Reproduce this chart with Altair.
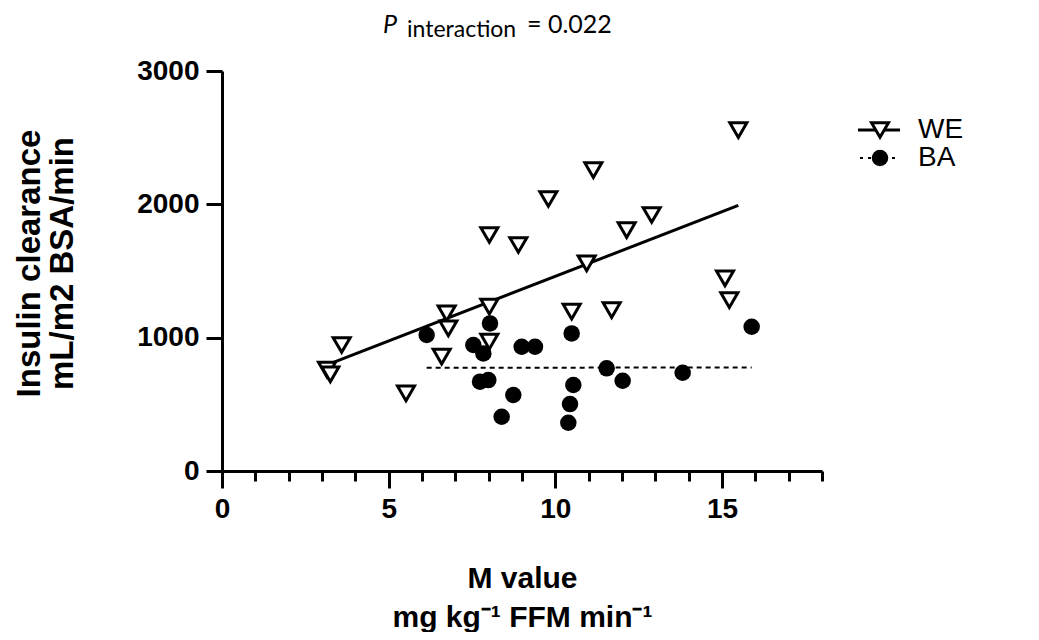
import altair as alt
import pandas as pd

# WE group (open inverted triangles)
we_x = [3.15, 3.25, 3.59, 5.52, 6.59, 6.74, 6.79, 8.02, 8.02, 8.02, 8.89,
        9.79, 10.49, 10.94, 11.14, 11.69, 12.14, 12.89, 15.09, 15.22, 15.49]
we_y = [760, 725, 945, 582, 857, 1182, 1070, 1232, 970, 1770, 1695,
        2040, 1195, 1557, 2257, 1207, 1807, 1920, 1445, 1282, 2557]
# BA group (filled circles)
ba_x = [6.14, 7.54, 7.74, 7.84, 7.99, 8.04, 8.39, 8.74, 8.99, 9.39,
        10.39, 10.44, 10.49, 10.54, 11.54, 12.02, 13.82, 15.89]
ba_y = [1020, 945, 670, 882, 682, 1107, 407, 570, 932, 932,
        362, 502, 1032, 645, 770, 677, 737, 1082]

x_ticks = list(range(0, 19))
y_ticks = [0, 1000, 2000, 3000]
x_title = ["M value", "mg kg\u207b\u00b9 FFM min\u207b\u00b9"]
y_title = ["Insulin clearance", "mL/m2 BSA/min"]
title_parts = ["P", "interaction", "= 0.022"]
legend_labels = ["WE", "BA"]

we = pd.DataFrame({"x": we_x, "y": we_y})
ba = pd.DataFrame({"x": ba_x, "y": ba_y})

FONT = "Liberation Sans"

X = alt.X("x:Q", scale=alt.Scale(domain=[0, 18], nice=False, zero=False),
          axis=alt.Axis(values=x_ticks,
                        labelExpr="datum.value % 5 === 0 ? datum.label : ''",
                        tickSize={"condition": {"test": "datum.value % 5 === 0", "value": 17}, "value": 10},
                        tickWidth=3, domainWidth=3, tickColor="black", domainColor="black",
                        grid=False, labelFont=FONT, labelFontWeight="bold", labelFontSize=28,
                        labelColor="black", labelPadding=7, labelFlush=False,
                        title=x_title, titleFont=FONT, titleFontWeight="bold", titleFontSize=30,
                        titleColor="black", titleLineHeight=39, titleBaseline="alphabetic",
                        titleX=300, titleY=116, titleAlign="center"))
Y = alt.Y("y:Q", scale=alt.Scale(domain=[0, 3000], nice=False),
          axis=alt.Axis(values=y_ticks, format="d", tickSize=16, tickWidth=3, domainWidth=3,
                        tickColor="black", domainColor="black", grid=False,
                        labelFont=FONT, labelFontWeight="bold", labelFontSize=28,
                        labelColor="black", labelPadding=7, labelFlush=False,
                        title=y_title, titleFont=FONT, titleFontWeight="bold", titleFontSize=33,
                        titleColor="black", titleLineHeight=33, titleAngle=-90,
                        titleBaseline="alphabetic", titleAlign="center",
                        titleX=-183, titleY=192))

we_pts = alt.Chart(we).mark_point(shape="triangle-down", filled=True, fill="white",
                                  stroke="black", strokeWidth=3, size=290, opacity=1).encode(x=X, y=Y)
ba_pts = alt.Chart(ba).mark_point(shape="circle", filled=True, fill="black",
                                  stroke="black", strokeWidth=0, size=272, opacity=1).encode(x=X, y=Y)
we_fit = alt.Chart(we).transform_regression("x", "y").mark_line(
    color="black", strokeWidth=3).encode(x=X, y=Y)
ba_fit = alt.Chart(ba).transform_regression("x", "y").mark_line(
    color="black", strokeWidth=2, strokeDash=[5, 4]).encode(x=X, y=Y)

# title pieces
tdf = pd.DataFrame({"t": title_parts})
t_p = alt.Chart(tdf).transform_filter(alt.datum.t == title_parts[0]).mark_text(
    font="Lato", fontSize=25, fontStyle="italic", align="left", baseline="alphabetic",
    color="black").encode(text="t:N", x=alt.value(161), y=alt.value(-38))
t_sub = alt.Chart(tdf).transform_filter(alt.datum.t == title_parts[1]).mark_text(
    font="Lato", fontSize=23, align="left", baseline="alphabetic",
    color="black").encode(text="t:N", x=alt.value(185), y=alt.value(-34))
t_val = alt.Chart(tdf).transform_filter(alt.datum.t == title_parts[2]).mark_text(
    font="Lato", fontSize=25, align="left", baseline="alphabetic",
    color="black").encode(text="t:N", x=alt.value(305), y=alt.value(-38))

# legend
ldf = pd.DataFrame({"label": legend_labels})
we_row = ldf[ldf.label == "WE"]
ba_row = ldf[ldf.label == "BA"]
lg_we_line = alt.Chart(we_row).mark_rule(color="black", strokeWidth=3).encode(
    x=alt.value(636), x2=alt.value(678), y=alt.value(59))
lg_we_pt = alt.Chart(we_row).mark_point(
    shape="triangle-down", filled=True, fill="white", stroke="black", strokeWidth=3,
    size=290, opacity=1).encode(x=alt.value(658), y=alt.value(59))
lg_we_txt = alt.Chart(we_row).mark_text(font=FONT, fontSize=28, align="left", baseline="middle",
                                        color="black").encode(
    text="label:N", x=alt.value(696), y=alt.value(59))
lg_ba_line = alt.Chart(ba_row).mark_rule(color="black", strokeWidth=2, strokeDash=[3, 5]).encode(
    x=alt.value(638), x2=alt.value(676), y=alt.value(87))
lg_ba_pt = alt.Chart(ba_row).mark_point(
    shape="circle", filled=True, fill="black", strokeWidth=0, size=272,
    opacity=1).encode(x=alt.value(658), y=alt.value(87))
lg_ba_txt = alt.Chart(ba_row).mark_text(font=FONT, fontSize=28, align="left", baseline="middle",
                                        color="black").encode(
    text="label:N", x=alt.value(696), y=alt.value(87))

chart = alt.layer(
    we_fit, ba_fit, ba_pts, we_pts, t_p, t_sub, t_val,
    lg_we_line, lg_ba_line, lg_we_pt, lg_ba_pt, lg_we_txt, lg_ba_txt
).properties(
    width=600, height=400,
    padding={"left": 214, "top": 63, "right": 209, "bottom": 161},
    autosize=alt.AutoSizeParams(type="none")
).configure_view(stroke=None)

chart.save("out.html", embed_options={"renderer": "svg", "actions": False})
